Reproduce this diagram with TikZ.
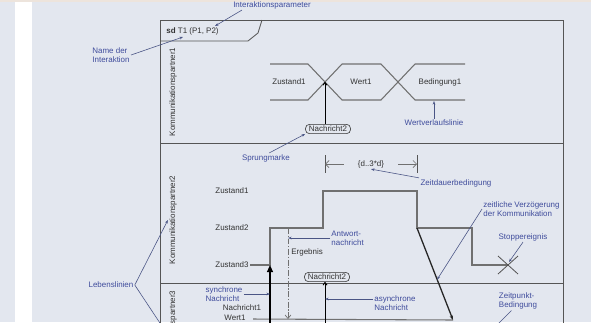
\documentclass[tikz,border=0pt]{standalone}
\usepackage{fontspec}
\setmainfont{Liberation Sans}
\usetikzlibrary{arrows.meta}
\definecolor{bgcol}{HTML}{E3E7EF}
\definecolor{bandcol}{HTML}{EDE4DC}
\definecolor{notecol}{HTML}{3F4C9C}
\definecolor{notelinecol}{HTML}{4A5585}
\definecolor{linecol}{HTML}{707070}
\definecolor{framecol}{HTML}{555555}
\definecolor{textcol}{HTML}{333333}

\tikzset{
  note/.style={text=notecol, align=left, inner sep=1pt},
  noteline/.style={draw=notelinecol, line width=0.5pt},
  notearrow/.style={noteline, -{Stealth[length=3pt,width=2.2pt]}},
  plaintext/.style={text=textcol, inner sep=1pt},
  lane/.style={text=textcol, rotate=90, inner sep=1pt},
  frameline/.style={draw=framecol, line width=0.7pt},
  valueline/.style={draw=linecol, line width=0.9pt},
  msgpill/.style={draw=textcol, rounded corners=3.5pt, line width=0.5pt, inner xsep=3pt, inner ysep=1pt, minimum height=8pt, text=textcol},
  msgarrow/.style={draw=black, line width=0.8pt, -{To[length=3pt,width=4pt]}},
  syncarrow/.style={draw=black, line width=1.2pt, -{Triangle[length=6pt,width=5pt]}},
  replyarrow/.style={draw=linecol, line width=0.6pt, dash pattern=on 5pt off 1.5pt on 1pt off 1.5pt, -{Straight Barb[length=3pt,width=5pt]}},
  delayarrow/.style={draw=black!85, line width=1.1pt, -{Stealth[length=4pt,width=3pt]}},
  durarrow/.style={draw=linecol, line width=0.6pt, {Straight Barb[length=3pt,width=6pt]}-},
}

\begin{document}
\begin{tikzpicture}[x=0.03cm, y=-0.03cm, font=\fontsize{6.8}{7.6}\selectfont]
  \path[use as bounding box] (0,0) rectangle (591,322);
  \clip (0,0) rectangle (591,322);
  \fill[bgcol] (0,0) rectangle (591,322);
  \fill[white] (15,0) rectangle (32,322);
  \fill[bandcol] (0,0) rectangle (591,2);

  % frame and lanes
  \draw[frameline] (160,330) -- (160,20) -- (563,20) -- (563,330);
  \draw[frameline] (160,41) -- (248,41) -- (258,33) -- (262,20);
  \draw[frameline] (160,143) -- (563,143);
  \draw[frameline] (160,283) -- (563,283);

  \node[plaintext, anchor=west] (sdname) at (165,31) {\textbf{sd} T1 (P1, P2)};
  \node[lane] (kp1) at (173,92) {Kommunikationspartner1};
  \node[lane] (kp2) at (173,220) {Kommunikationspartner2};
  \node[lane] (kp3) at (173,335) {Kommunikationspartner3};

  % partner 1
  \draw[valueline] (270,64) -- (308,64) -- (342,100) -- (381,100) -- (415,64) -- (465,64);
  \draw[valueline] (270,100) -- (308,100) -- (342,64) -- (381,64) -- (415,100) -- (465,100);
  \node[plaintext] (zust1a) at (289,82) {Zustand1};
  \node[plaintext] (wert1a) at (361,82) {Wert1};
  \node[plaintext] (bed1) at (440,82) {Bedingung1};
  \coordinate (cross1) at (325,82);
  \node[msgpill] (nachr2a) at (328,129) {Nachricht2};
  \draw[msgarrow] (nachr2a.north -| cross1) -- (cross1);

  % partner 2
  \node[plaintext] (z1) at (232,191) {Zustand1};
  \node[plaintext] (z2) at (232,228) {Zustand2};
  \node[plaintext] (z3) at (232,265) {Zustand3};
  \coordinate (z3pt) at (270,265);
  \coordinate (delay0) at (417,228);
  \coordinate (stop) at (508,265);
  \draw[valueline] (z3.east) -- (z3pt) -- (270,228) -- (323,228) -- (323,191)
    -- (417,191) -- (delay0) -- (472,228) -- (472,265) -- (stop);
  \draw[frameline] ([shift={(-10,-9)}]stop) -- ([shift={(10,9)}]stop);
  \draw[frameline] ([shift={(-10,9)}]stop) -- ([shift={(10,-9)}]stop);

  \coordinate (dl) at (325,164);
  \coordinate (dr) at (417,164);
  \coordinate (dla) at (344,164);
  \coordinate (dra) at (398,164);
  \draw[frameline] ([yshift=0.27cm]dl) -- ([yshift=-0.27cm]dl);
  \draw[frameline] ([yshift=0.27cm]dr) -- ([yshift=-0.27cm]dr);
  \draw[durarrow] (dl) -- (dla);
  \draw[durarrow] (dr) -- (dra);
  \node[plaintext] (dur) at (371,164) {\{d..3*d\}};

  \coordinate (replytop) at (288,228);
  \coordinate (replybot) at (288,319);
  \draw[replyarrow] (replytop) -- (replybot);
  \node[plaintext, anchor=west] (ergebnis) at (290,252) {Ergebnis};
  \node[msgpill] (nachr2b) at (327,277) {Nachricht2};

  % partner 3
  \coordinate (sync0) at (270,330);
  \coordinate (async0) at (325,330);
  \coordinate (delay1) at (453,320);
  \draw[valueline] (253,319) -- (delay1);
  \draw[syncarrow] (sync0) -- (z3pt);
  \draw[msgarrow] (async0) -- (nachr2b.south -| async0);
  \draw[delayarrow] (delay0) -- (delay1);
  \path (delay0) -- (delay1) coordinate[pos=0.56] (verzpt);
  \node[plaintext] (nachr1) at (242,308) {Nachricht1};
  \node[plaintext] (wert1b) at (235,318) {Wert1};

  % notes
  \node[note] (ipar) at (272,5) {Interaktionsparameter};
  \coordinate (iparend) at (215,26);
  \draw[notearrow] ([xshift=0.3cm]ipar.south west) -- (iparend);
  \node[note] (nameint) at (111,55) {Name der\\Interaktion};
  \coordinate (sdpt) at (183,37);
  \draw[notearrow] (nameint.east) -- (sdpt);
  \node[note] (sprung) at (266,158) {Sprungmarke};
  \draw[notearrow] ([xshift=0.1cm]sprung.north) -- (nachr2a.south west);
  \node[note] (wvl) at (434,123) {Wertverlaufslinie};
  \coordinate (wvlend) at (434,101);
  \draw[notearrow] (wvl.north) -- (wvlend);
  \node[note] (zdb) at (456,183) {Zeitdauerbedingung};
  \draw[notearrow] (zdb.north west) -- (dur.south);
  \node[note, anchor=west] (antw) at (330,238) {Antwort-\\nachricht};
  \draw[notearrow] (antw.west) -- (antw.west -| replytop);
  \node[note, anchor=west] (verz) at (482,209) {zeitliche Verzögerung\\der Kommunikation};
  \draw[notearrow] (verz.west) -- (verzpt);
  \node[note] (stopev) at (523,237) {Stoppereignis};
  \draw[notearrow] (stopev.south) -- ([shift={(1,-3)}]stop);
  \node[note] (syn) at (224,294) {synchrone\\Nachricht};
  \draw[notearrow] (syn.east) -- (syn.east -| sync0);
  \node[note, anchor=west] (asyn) at (373,303) {asynchrone\\Nachricht};
  \coordinate (asynpt) at ([yshift=0.12cm]asyn.west);
  \draw[notearrow] (asynpt) -- (asynpt -| async0);
  \node[note] (zpb) at (518,301) {Zeitpunkt-\\Bedingung};
  \coordinate (zpbend) at (496,326);
  \draw[noteline] ([xshift=-0.2cm]zpb.south) -- (zpbend);
  \node[note] (lebens) at (111,285) {Lebenslinien};
  \draw[notearrow] (lebens.east) -- (kp2.north);
  \draw[notearrow] (lebens.east) -- (kp3.north);
\end{tikzpicture}
\end{document}
